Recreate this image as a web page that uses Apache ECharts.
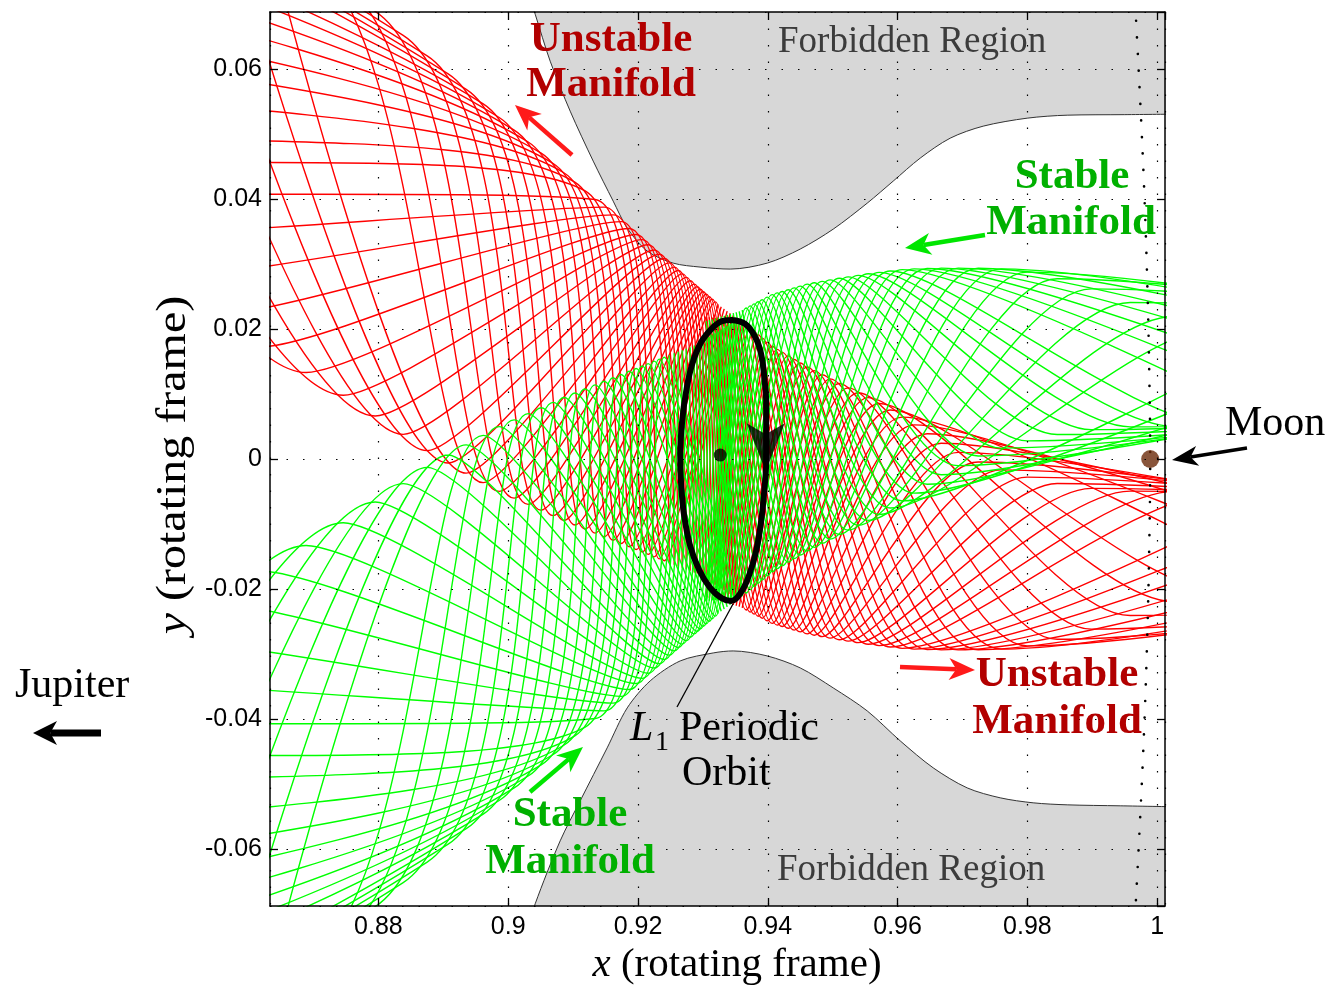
<!DOCTYPE html>
<html>
<head>
<meta charset="utf-8">
<script src="https://cdn.jsdelivr.net/npm/echarts@6/dist/echarts.min.js"></script>
<style>
html,body{margin:0;padding:0;background:#fff;}
#chart{width:1331px;height:989px;}
</style>
</head>
<body>
<div id="chart"></div>
<script>
// ---------------- data ----------------
const xExtent = [0.8633, 1.0012];
const yExtent = [-0.0688, 0.0688];
const xTicks = [0.88, 0.9, 0.92, 0.94, 0.96, 0.98, 1];
const yTicks = [-0.06, -0.04, -0.02, 0, 0.02, 0.04, 0.06];

// forbidden-region boundaries (zero velocity curves)
const forbidTopX = [0.90317, 0.90416, 0.90647, 0.90955, 0.91310, 0.91618, 0.91834, 0.92142, 0.92542, 0.92958, 0.93421, 0.93991, 0.94499, 0.95008, 0.95532, 0.95932, 0.96348, 0.96810, 0.97319, 0.97997, 0.98613, 0.99500, 1.00300];
const forbidTopY = [0.07154, 0.06846, 0.06123, 0.05354, 0.04585, 0.03969, 0.03554, 0.03200, 0.03015, 0.02954, 0.02923, 0.03015, 0.03231, 0.03538, 0.03938, 0.04277, 0.04631, 0.04938, 0.05123, 0.05246, 0.05292, 0.05300, 0.05308];
const forbidBotX = [0.90324, 0.90416, 0.90801, 0.91109, 0.91525, 0.91834, 0.92188, 0.92650, 0.93159, 0.93467, 0.93991, 0.94499, 0.95008, 0.95532, 0.96040, 0.96549, 0.97072, 0.97581, 0.98089, 0.98613, 0.99430, 1.00354];
const forbidBotY = [-0.07185, -0.06846, -0.05877, -0.05262, -0.04446, -0.03831, -0.03415, -0.03108, -0.02985, -0.02954, -0.03031, -0.03215, -0.03523, -0.03877, -0.04338, -0.04754, -0.05062, -0.05215, -0.05292, -0.05323, -0.05338, -0.05354];

// dotted zero-velocity curve near the Moon
const moonCurveX = [0.99661, 0.99738, 0.99800, 0.99846, 0.99877, 0.99892, 0.99877, 0.99846, 0.99800, 0.99738, 0.99661];
const moonCurveY = [0.0700, 0.05508, 0.04123, 0.02738, 0.01354, 0, -0.01354, -0.02738, -0.04123, -0.05508, -0.0700];

// L1 periodic (Lyapunov) orbit
const orbitX = [0.93436, 0.93652, 0.93806, 0.93898, 0.93945, 0.93975, 0.93975, 0.93975, 0.93945, 0.93898, 0.93821, 0.93713, 0.93590, 0.93436, 0.93282, 0.93112, 0.92943, 0.92804, 0.92712, 0.92666, 0.92650, 0.92681, 0.92743, 0.92835, 0.92974, 0.93143, 0.93297, 0.93436];
const orbitY = [0.02138, 0.02077, 0.01877, 0.01615, 0.01262, 0.00862, 0.00431, -0.00031, -0.00492, -0.00954, -0.01415, -0.01785, -0.02046, -0.02185, -0.02138, -0.01985, -0.01708, -0.01338, -0.00877, -0.00415, 0.00046, 0.00585, 0.01046, 0.01462, 0.01800, 0.02015, 0.02123, 0.02138];
const orbitArrow = [0.93968, 0.0018];
const l1Point = [0.93267, 0.0006];
const moonPoint = [0.99892, 0.0];

// manifold tubes: walls (envelopes) of the left branches
const leftEnvX = [0.06672, 0.85254, 0.86333, 0.87288, 0.87982, 0.88305, 0.88829, 0.89260, 0.89846, 0.90293, 0.90878, 0.91310, 0.91911, 0.92342, 0.92928, 0.93267, 0.93544];
const redLeftUpperY = [0.76274, 0.09189, 0.08269, 0.07454, 0.06862, 0.06585, 0.06138, 0.05769, 0.05269, 0.04892, 0.04389, 0.04020, 0.03508, 0.03138, 0.02638, 0.02354, 0.02154];
const redLeftLowerY = [0.52566, 0.02354, 0.01662, 0.01092, 0.00642, 0.00431, 0.00077, -0.00165, -0.00492, -0.00692, -0.00954, -0.01128, -0.01369, -0.01543, -0.01769, -0.01982, -0.02154];
const greenLeftUpperY = [-0.52566, -0.02354, -0.01662, -0.01092, -0.00642, -0.00431, -0.00077, 0.00165, 0.00492, 0.00692, 0.00954, 0.01128, 0.01369, 0.01543, 0.01769, 0.01982, 0.02154];
const greenLeftLowerY = [-0.76274, -0.09189, -0.08269, -0.07454, -0.06862, -0.06585, -0.06138, -0.05769, -0.05269, -0.04892, -0.04389, -0.04020, -0.03508, -0.03138, -0.02638, -0.02354, -0.02154];

// walls of the right branches
const rightEnvX = [0.93051, 0.93575, 0.94083, 0.94607, 0.95116, 0.95624, 0.96148, 0.96656, 0.97165, 0.97689, 0.98197, 0.98706, 0.99230, 0.99738, 1.00123, 1.00663, 1.02203, 1.06210, 1.29938];
const greenRightUpperY = [0.02123, 0.02277, 0.02538, 0.02692, 0.02785, 0.02862, 0.02923, 0.02938, 0.02938, 0.02923, 0.02846, 0.02708, 0.02538, 0.02354, 0.02231, 0.02100, 0.01900, 0.01700, 0.01500];
const greenRightLowerY = [-0.02185, -0.02138, -0.01723, -0.01415, -0.01154, -0.00908, -0.00600, -0.00250, 0.00020, 0.00200, 0.00330, 0.00420, 0.00480, 0.00500, 0.00500, 0.00500, 0.00500, 0.00500, 0.00500];
const redRightUpperY = [0.02185, 0.02138, 0.01723, 0.01415, 0.01154, 0.00908, 0.00600, 0.00250, -0.00020, -0.00200, -0.00330, -0.00420, -0.00480, -0.00500, -0.00500, -0.00500, -0.00500, -0.00500, -0.00500];
const redRightLowerY = [-0.02123, -0.02277, -0.02538, -0.02692, -0.02785, -0.02862, -0.02923, -0.02938, -0.02938, -0.02923, -0.02846, -0.02708, -0.02538, -0.02354, -0.02231, -0.02100, -0.01900, -0.01700, -0.01500];

// x positions where the strands touch the tube walls
const leftTouchX = [0.93513, 0.93467, 0.93421, 0.93374, 0.93328, 0.93282, 0.93236, 0.93190, 0.93143, 0.93097, 0.93051, 0.93005, 0.92958,
  0.92912, 0.92866, 0.92804, 0.92743, 0.92681, 0.92619, 0.92558, 0.92481, 0.92404, 0.92327, 0.92250, 0.92157, 0.92065, 0.91972,
  0.91864, 0.91741, 0.91618, 0.91479, 0.91341, 0.91186, 0.91032, 0.90863, 0.90693, 0.90508, 0.90308, 0.90092, 0.89861, 0.89615, 0.89353,
  0.89075, 0.88752, 0.88382, 0.87951, 0.87458, 0.86888, 0.86225, 0.85470, 0.84592, 0.83590, 0.82435, 0.81109, 0.79584,
  0.77827, 0.75809, 0.73482, 0.70817, 0.67750, 0.64222, 0.60154, 0.55485, 0.50108, 0.43929, 0.36826, 0.28660, 0.19307, 0.08521];
const rightTouchX = [0.93051, 0.93097, 0.93143, 0.93190, 0.93236, 0.93282, 0.93328, 0.93374, 0.93421, 0.93467, 0.93513, 0.93559, 0.93606,
  0.93667, 0.93729, 0.93790, 0.93852, 0.93914, 0.93991, 0.94068, 0.94145, 0.94222, 0.94314, 0.94407, 0.94499,
  0.94607, 0.94715, 0.94838, 0.94961, 0.95100, 0.95239, 0.95393, 0.95547, 0.95716, 0.95886, 0.96071, 0.96256, 0.96456,
  0.96672, 0.96934, 0.97242, 0.97596, 0.97997, 0.98459, 0.98983, 0.99584, 1.00262, 1.01032, 1.01910, 1.02912,
  1.04052, 1.05347, 1.06826, 1.08505, 1.10416, 1.12589, 1.15054, 1.17858, 1.21048, 1.24684, 1.28814];
// number of touch steps a strand needs to cross from one wall to the other
const redLeftSteps = [21, 7];    // upper->lower, lower->upper
const greenLeftSteps = [7, 21];
const rightSteps = [13, 13];

// ---------------- build ----------------
const RED = '#ff0000', GREEN = '#00ff00';
function zip(a, b) { return a.map((v, i) => [v, b[i]]); }
function wallAt(xs, ys, x) {
  let i = 1;
  while (i < xs.length - 1 && xs[i] < x) i++;
  return ys[i - 1] + (ys[i] - ys[i - 1]) * (x - xs[i - 1]) / (xs[i] - xs[i - 1]);
}
function tube(touches, envX, upY, loY, color, steps) {
  const a = steps[0], b = steps[1], N = a + b, out = [];
  for (let k = 0; k < N; k++) {
    let idx, side;
    if (k - b >= 0) { idx = k - b; side = 1; } else { idx = k; side = 0; }
    const pts = [];
    while (idx < touches.length) {
      const x = touches[idx];
      pts.push([x, wallAt(envX, side ? loY : upY, x)]);
      idx += side ? b : a;
      side ^= 1;
    }
    out.push({
      type: 'line', data: pts, smooth: 0.24, symbol: 'none', silent: true, clip: true, z: 2,
      lineStyle: { color: color, width: 1.4 }
    });
  }
  return out;
}

const series = [];
series.push({
  type: 'line', data: zip(forbidTopX, forbidTopY), symbol: 'none', silent: true, clip: true, z: 1, smooth: 0.3,
  lineStyle: { color: '#333', width: 1 }, areaStyle: { color: '#d7d7d7', opacity: 1, origin: 'end' }
});
series.push({
  type: 'line', data: zip(forbidBotX, forbidBotY), symbol: 'none', silent: true, clip: true, z: 1, smooth: 0.3,
  lineStyle: { color: '#333', width: 1 }, areaStyle: { color: '#d7d7d7', opacity: 1, origin: 'start' }
});
series.push(...tube(leftTouchX, leftEnvX, redLeftUpperY, redLeftLowerY, RED, redLeftSteps));
series.push(...tube(rightTouchX, rightEnvX, redRightUpperY, redRightLowerY, RED, rightSteps));
series.push(...tube(leftTouchX, leftEnvX, greenLeftUpperY, greenLeftLowerY, GREEN, greenLeftSteps));
series.push(...tube(rightTouchX, rightEnvX, greenRightUpperY, greenRightLowerY, GREEN, rightSteps));
series.push({
  type: 'line', data: zip(moonCurveX, moonCurveY), symbol: 'none', silent: true, clip: true, z: 3, smooth: 0.4,
  lineStyle: { color: '#000', width: 2.6, type: [0.1, 16.5], cap: 'round' }
});
series.push({
  type: 'line', data: zip(orbitX, orbitY), symbol: 'none', silent: true, clip: true, z: 4, smooth: 0.4,
  lineStyle: { color: '#000', width: 6, join: 'round', cap: 'round' }
});
series.push({
  type: 'scatter', data: [orbitArrow], silent: true, z: 5,
  symbol: 'path://M0,0 L19,11 L38,0 L19,48 Z', symbolSize: [38, 48], itemStyle: { color: '#000' }
});
series.push({
  type: 'scatter', data: [l1Point], silent: true, z: 5, symbol: 'circle', symbolSize: 13, itemStyle: { color: '#000' }
});
series.push({
  type: 'scatter', data: [moonPoint], silent: true, z: 5, symbol: 'circle', symbolSize: 18, itemStyle: { color: '#6b2a0a' }
});

// ---------------- annotations ----------------
const SERIF = '"Liberation Serif", "Times New Roman", serif';
function txt(x, y, text, size, color, align, weight, style) {
  return {
    type: 'text', x: x, y: y, z: 40, silent: true,
    style: {
      text: text, fill: color, fontSize: size, fontFamily: SERIF, fontWeight: weight || 'normal',
      fontStyle: style || 'normal', align: align || 'left', verticalAlign: 'middle',
      textAlign: align || 'left', textVerticalAlign: 'middle'
    }
  };
}
function arrow(t, h, color, w, hl, hw) {
  const dx = h[0] - t[0], dy = h[1] - t[1], L = Math.hypot(dx, dy);
  const ux = dx / L, uy = dy / L, nx = -uy, ny = ux;
  const bx = h[0] - ux * hl, by = h[1] - uy * hl;
  const notch = [h[0] - ux * hl * 0.72, h[1] - uy * hl * 0.72];
  return [
    { type: 'line', z: 40, silent: true, shape: { x1: t[0], y1: t[1], x2: notch[0], y2: notch[1] }, style: { stroke: color, lineWidth: w } },
    { type: 'polygon', z: 40, silent: true, shape: { points: [h, [bx + nx * hw / 2, by + ny * hw / 2], notch, [bx - nx * hw / 2, by - ny * hw / 2]] }, style: { fill: color } }
  ];
}
const DRED = '#b20000', DGREEN = '#00b000', GRAYTXT = '#3c3c3c';
const graphics = [
  txt(611, 40, 'Unstable', 43, DRED, 'center', 'bold'),
  txt(611, 85, 'Manifold', 43, DRED, 'center', 'bold'),
  txt(778, 42, 'Forbidden Region', 37, GRAYTXT, 'left'),
  txt(1072, 177, 'Stable', 43, DGREEN, 'center', 'bold'),
  txt(1071, 223, 'Manifold', 43, DGREEN, 'center', 'bold'),
  txt(1057, 675, 'Unstable', 43, DRED, 'center', 'bold'),
  txt(1057, 722, 'Manifold', 43, DRED, 'center', 'bold'),
  txt(570, 815, 'Stable', 43, DGREEN, 'center', 'bold'),
  txt(570, 862, 'Manifold', 43, DGREEN, 'center', 'bold'),
  txt(777, 870, 'Forbidden Region', 37, GRAYTXT, 'left'),
  txt(630, 729, 'L', 42, '#000', 'left', 'normal', 'italic'),
  txt(655, 743, '1', 28, '#000', 'left'),
  txt(679, 729, 'Periodic', 42, '#000', 'left'),
  txt(682, 774, 'Orbit', 42, '#000', 'left'),
  txt(1225, 424, 'Moon', 42, '#000', 'left'),
  txt(15, 686, 'Jupiter', 42, '#000', 'left'),
  { type: 'line', z: 40, silent: true, shape: { x1: 677, y1: 707, x2: 733, y2: 604 }, style: { stroke: '#000', lineWidth: 1.3 } },
  {
    type: 'text', x: 737, y: 965, z: 40, silent: true,
    style: {
      text: '{i|x} (rotating frame)', fill: '#000', fontSize: 41, fontFamily: SERIF,
      align: 'center', verticalAlign: 'middle', textAlign: 'center', textVerticalAlign: 'middle',
      rich: { i: { fontStyle: 'italic', fontSize: 41, fontFamily: SERIF, fill: '#000' } }
    }
  },
  {
    type: 'text', x: 174, y: 465, rotation: Math.PI / 2, scaleY: 0.86, z: 40, silent: true,
    style: {
      text: '{i|y} (rotating frame)', fill: '#000', fontSize: 48, fontFamily: SERIF,
      align: 'center', verticalAlign: 'middle', textAlign: 'center', textVerticalAlign: 'middle',
      rich: { i: { fontStyle: 'italic', fontSize: 48, fontFamily: SERIF, fill: '#000' } }
    }
  }
];
graphics.push(...arrow([572, 155], [515, 105], '#ff1a1a', 4.5, 26, 22));
graphics.push(...arrow([985, 235], [905, 248], '#00e600', 4.5, 26, 22));
graphics.push(...arrow([900, 667], [975, 670], '#ff1a1a', 4.5, 26, 22));
graphics.push(...arrow([530, 792], [583, 747], '#00e600', 4.5, 26, 22));
graphics.push(...arrow([1247, 448], [1172, 460], '#000', 3.5, 26, 20));
graphics.push(...arrow([101, 733], [33, 733], '#000', 7, 24, 24));

// ---------------- axes ----------------
function fmt(ticks) {
  return function (v) {
    for (const t of ticks) if (Math.abs(v - t) < 1e-6) return String(t);
    return '';
  };
}
const axisLineStyle = { color: '#000', width: 1.5 };
const gridDots = { color: '#000', width: 1.2, type: [1.5, 15] };
const labelFont = { color: '#000', fontSize: 25, fontFamily: '"Liberation Sans", Arial, sans-serif' };

const option = {
  animation: false,
  backgroundColor: '#fff',
  grid: { left: 270, right: 166, top: 12, bottom: 83, show: false, containLabel: false, outerBoundsMode: 'none' },
  xAxis: [
    {
      type: 'value', min: xExtent[0], max: xExtent[1], splitNumber: 7, position: 'bottom', z: 6,
      axisLine: { show: true, onZero: false, lineStyle: axisLineStyle },
      axisTick: { show: true, inside: true, length: 8, lineStyle: { color: '#000', width: 1.3 } },
      axisLabel: Object.assign({ formatter: fmt(xTicks), margin: 9, showMinLabel: false, showMaxLabel: false }, labelFont),
      splitLine: { show: true, lineStyle: gridDots }
    },
    {
      type: 'value', min: xExtent[0], max: xExtent[1], splitNumber: 7, position: 'top', z: 6,
      axisLine: { show: true, onZero: false, lineStyle: axisLineStyle },
      axisTick: { show: true, inside: true, length: 8, lineStyle: { color: '#000', width: 1.3 } },
      axisLabel: { show: false }, splitLine: { show: false }
    }
  ],
  yAxis: [
    {
      type: 'value', min: yExtent[0], max: yExtent[1], splitNumber: 7, position: 'left', z: 6,
      axisLine: { show: true, onZero: false, lineStyle: axisLineStyle },
      axisTick: { show: true, inside: true, length: 8, lineStyle: { color: '#000', width: 1.3 } },
      axisLabel: Object.assign({ formatter: fmt(yTicks), margin: 8, showMinLabel: false, showMaxLabel: false }, labelFont),
      splitLine: { show: true, lineStyle: gridDots }
    },
    {
      type: 'value', min: yExtent[0], max: yExtent[1], splitNumber: 7, position: 'right', z: 6,
      axisLine: { show: true, onZero: false, lineStyle: axisLineStyle },
      axisTick: { show: true, inside: true, length: 8, lineStyle: { color: '#000', width: 1.3 } },
      axisLabel: { show: false }, splitLine: { show: false }
    }
  ],
  graphic: { elements: graphics },
  series: series
};

const chart = echarts.init(document.getElementById('chart'), null, { renderer: 'canvas' });
chart.setOption(option);
</script>
</body>
</html>
